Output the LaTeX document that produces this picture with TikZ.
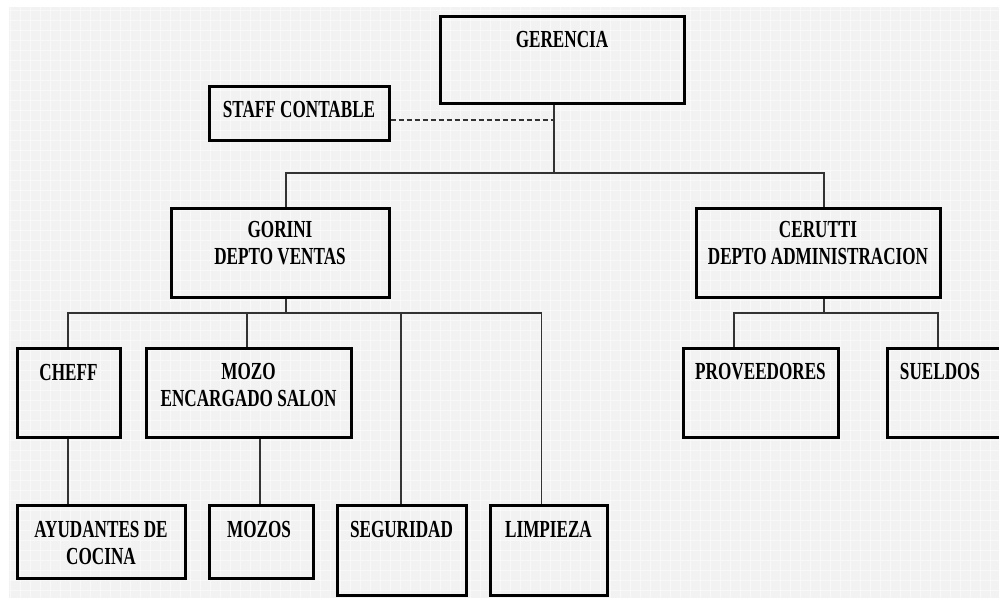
\documentclass[tikz,border=0pt]{standalone}
\usepackage{fontspec}
\newfontfamily\orgfont{Liberation Serif}[FakeStretch=0.7]
\usetikzlibrary{positioning}
\definecolor{paper}{HTML}{F2F2F2}
\definecolor{gridline}{HTML}{F8F8F8}
\definecolor{wirec}{HTML}{333333}

\begin{document}
\begin{tikzpicture}[x=1pt,y=-1pt,
  box/.style 2 args={draw=black,line width=3pt,inner sep=0pt,
                     minimum width=#1,minimum height=#2},
  lbl/.style={font=\orgfont\bfseries\fontsize{24.5}{27}\selectfont,
              inner sep=0pt,align=center,text=black},
  wire/.style={draw=wirec,line width=1.8pt},
  staffline/.style={draw=wirec,line width=2.6pt,dash pattern=on 5pt off 3pt},
]
  \useasboundingbox (0,0) rectangle (999,598);
  \fill[white] (0,0) rectangle (999,598);
  \fill[paper] (9,7) rectangle (999,598);
  \draw[gridline,line width=0.8pt,step=10pt] (9,7) grid (999,598);

  % boxes
  \node[box={244pt}{87pt}] (ger) at (562,59.5) {};
  \node[box={180pt}{54pt}] (staff) at (299,113) {};
  \node[box={218pt}{89pt}] (gor) at (280,252.5) {};
  \node[box={244pt}{89pt}] (cer) at (818,252.5) {};
  \node[box={103pt}{89pt}] (chef) at (68.5,392.5) {};
  \node[box={205pt}{89pt}] (mozo) at (248.5,392.5) {};
  \node[box={155pt}{89pt}] (prov) at (760.5,392.5) {};
  \node[box={116pt}{89pt}] (suel) at (945,392.5) {};
  \node[box={168pt}{73pt}] (ayud) at (101,541.5) {};
  \node[box={104pt}{73pt}] (mozos) at (261,541.5) {};
  \node[box={129pt}{90pt}] (seg) at (401.5,550) {};
  \node[box={117pt}{90pt}] (limp) at (548.5,550) {};

  % texts
  \node[lbl,below=17pt of ger.north] (gert) {GERENCIA};
  \node[lbl,below=17pt of staff.north] (stafft) {STAFF CONTABLE};
  \node[lbl,below=15pt of gor.north] (gort) {GORINI\\DEPTO VENTAS};
  \node[lbl,below=15pt of cer.north] (cert) {CERUTTI\\DEPTO ADMINISTRACION};
  \node[lbl,below=18pt of chef.north] (cheft) {CHEFF};
  \node[lbl,below=17pt of mozo.north] (mozot) {MOZO\\ENCARGADO SALON};
  \node[lbl,below=17pt of prov.north] (provt) {PROVEEDORES};
  \node[lbl,below=17pt of suel.north,xshift=-5pt] (suelt) {SUELDOS};
  \node[lbl,below=18pt of ayud.north] (ayudt) {AYUDANTES DE\\COCINA};
  \node[lbl,below=18pt of mozos.north,xshift=-2pt] (mozost) {MOZOS};
  \node[lbl,below=18pt of seg.north] (segt) {SEGURIDAD};
  \node[lbl,below=18pt of limp.north] (limpt) {LIMPIEZA};

  % bus points
  \coordinate (top) at (554,173);
  \coordinate (dash) at (554,120);
  \coordinate (bl) at (286,173);
  \coordinate (br) at (824,173);
  \coordinate (vs) at (286,313);
  \coordinate (v1) at (68,313);
  \coordinate (v2) at (247,313);
  \coordinate (v3) at (401,313);
  \coordinate (v4) at (541.5,313);
  \coordinate (as) at (824,313);
  \coordinate (a1) at (734,313);
  \coordinate (a2) at (938,313);

  % connectors
  \draw[wire] (ger.south -| top) -- (top);
  \draw[staffline] (staff.east |- dash) -- (dash);
  \draw[wire] (gor.north -| bl) |- (br) -- (cer.north -| br);
  \draw[wire] (gor.south -| vs) -- (vs);
  \draw[wire] (chef.north -| v1) |- (v4) -- (limp.north -| v4);
  \draw[wire] (v2) -- (mozo.north -| v2);
  \draw[wire] (v3) -- (seg.north -| v3);
  \draw[wire] (chef.south -| v1) -- (ayud.north -| v1);
  \draw[wire] (mozo.south -| 260,0) -- (mozos.north -| 260,0);
  \draw[wire] (cer.south -| as) -- (as);
  \draw[wire] (prov.north -| a1) |- (a2) -- (suel.north -| a2);
\end{tikzpicture}
\end{document}
